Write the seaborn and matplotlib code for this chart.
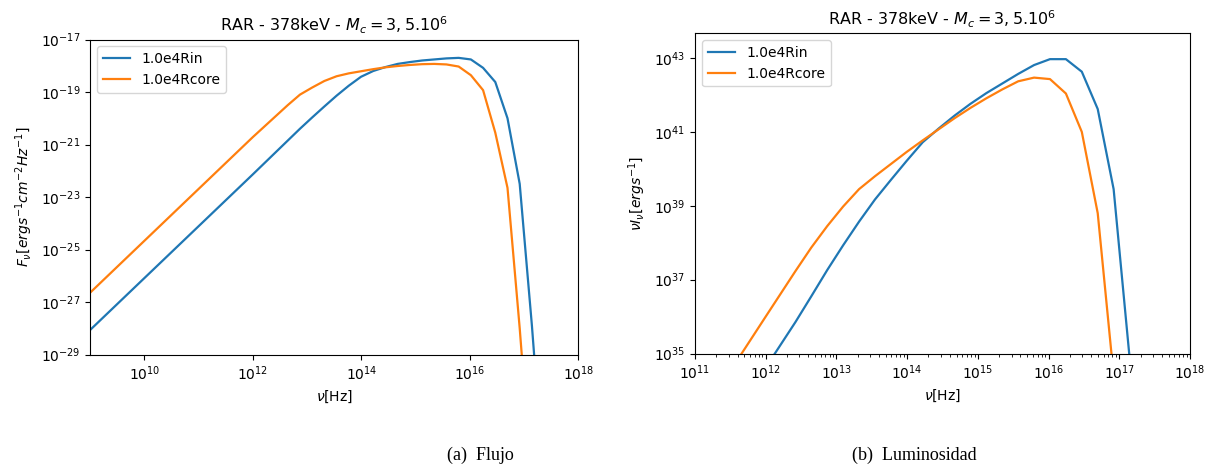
import numpy as np
import pandas as pd
import matplotlib
matplotlib.use("Agg")
import matplotlib.pyplot as plt
from matplotlib.ticker import NullLocator, LogLocator
import seaborn as sns

# ---- spectral data (log10 values) ----
series_names = ["1.0e4Rin", "1.0e4Rcore"]

# Flux panel: log10(nu / Hz) and log10(F_nu)
flux_lognu = [9.0, 12.0, 12.645, 12.87, 13.095, 13.32, 13.545, 13.77, 13.995,
              14.22, 14.445, 14.67, 14.895, 15.12, 15.345, 15.57, 15.795,
              16.02, 16.245, 16.47, 16.695, 16.92, 17.145, 17.37]
flux_rin = [-28.07, -22.14, -20.85, -20.40, -19.97, -19.55, -19.14, -18.76, -18.42,
            -18.20, -18.05, -17.93, -17.86, -17.80, -17.76, -17.72, -17.70,
            -17.76, -18.08, -18.62, -20.00, -22.50, -27.90, -34.00]
flux_rcore = [-26.65, -20.72, -19.50, -19.10, -18.83, -18.58, -18.40, -18.29, -18.21,
              -18.13, -18.06, -18.01, -17.97, -17.94, -17.93, -17.95, -18.03,
              -18.36, -18.93, -20.55, -22.65, -28.00, -34.00, -40.00]

# Luminosity panel: log10(nu / Hz) and log10(nu L_nu)
lum_lognu = [11.5, 12.0, 12.42, 12.645, 12.87, 13.095, 13.32, 13.545, 13.77, 13.995,
             14.22, 14.445, 14.67, 14.895, 15.12, 15.345, 15.57, 15.795,
             16.02, 16.245, 16.47, 16.695, 16.92, 17.145, 17.37]
lum_rin = [33.1, 34.62, 35.85, 36.55, 37.26, 37.93, 38.57, 39.17, 39.70, 40.22,
           40.72, 41.09, 41.44, 41.76, 42.05, 42.31, 42.57, 42.81,
           42.97, 42.97, 42.63, 41.62, 39.45, 34.90, 29.00]
lum_rcore = [34.53, 36.00, 37.23, 37.87, 38.45, 38.98, 39.45, 39.80, 40.13, 40.46,
             40.77, 41.07, 41.37, 41.65, 41.91, 42.15, 42.37, 42.47,
             42.43, 42.04, 41.00, 38.80, 34.40, 28.00, 22.00]

title_text = r"RAR - 378keV - $M_c = 3, 5.10^6$"
captions = ["(a)  Flujo", "(b)  Luminosidad"]

colors = ["#1f77b4", "#ff7f0e"]


def long_frame(lognu, rin, rcore):
    nu = 10.0 ** np.asarray(lognu)
    return pd.concat([
        pd.DataFrame({"nu": nu, "y": 10.0 ** np.asarray(rin), "serie": series_names[0]}),
        pd.DataFrame({"nu": nu, "y": 10.0 ** np.asarray(rcore), "serie": series_names[1]}),
    ], ignore_index=True)


df_flux = long_frame(flux_lognu, flux_rin, flux_rcore)
df_lum = long_frame(lum_lognu, lum_rin, lum_rcore)

plt.rcParams["font.family"] = ["DejaVu Sans"]
plt.rcParams["mathtext.fontset"] = "dejavusans"

fig = plt.figure(figsize=(12.1, 4.75), dpi=100)
ax1 = fig.add_axes([90 / 1210, 1 - 354.5 / 475, 488.3 / 1210, 315 / 475])
ax2 = fig.add_axes([695 / 1210, 1 - 353.5 / 475, 495 / 1210, 320.2 / 475])

for ax, df in ((ax1, df_flux), (ax2, df_lum)):
    sns.lineplot(data=df, x="nu", y="y", hue="serie", palette=colors,
                 sort=False, estimator=None, linewidth=1.6, ax=ax)
    ax.set_xscale("log")
    ax.set_yscale("log")
    ax.legend(loc="upper left", fontsize=10)
    ax.set_title(title_text, fontsize=11.5)

# flux panel axes
ax1.set_xticks([10.0 ** k for k in range(10, 19, 2)])
ax1.set_yticks([10.0 ** k for k in range(-29, -16, 2)])
ax1.xaxis.set_minor_locator(NullLocator())
ax1.yaxis.set_minor_locator(NullLocator())
ax1.set_xlim(1e9, 1e18)
ax1.set_ylim(1e-29, 1e-17)
ax1.set_xlabel(r"$\nu$[Hz]")
ax1.set_ylabel(r"$F_\nu [ergs^{-1}cm^{-2}Hz^{-1}]$")

# luminosity panel axes
ax2.set_xticks([10.0 ** k for k in range(11, 19)])
ax2.set_yticks([10.0 ** k for k in range(35, 44, 2)])
ax2.xaxis.set_minor_locator(LogLocator(base=10, subs=np.arange(2, 10), numticks=20))
ax2.yaxis.set_minor_locator(NullLocator())
ax2.set_xlim(1e11, 1e18)
ax2.set_ylim(1e35, 10 ** 43.67)
ax2.set_xlabel(r"$\nu$[Hz]")
ax2.set_ylabel(r"$\nu I_\nu [ergs^{-1}]$")

fig.text(480 / 1210, 1 - 455 / 475, captions[0], ha="center", va="center",
         family="Liberation Serif", fontsize=13)
fig.text(914 / 1210, 1 - 455 / 475, captions[1], ha="center", va="center",
         family="Liberation Serif", fontsize=13)

fig.savefig("out.png", dpi=100)
